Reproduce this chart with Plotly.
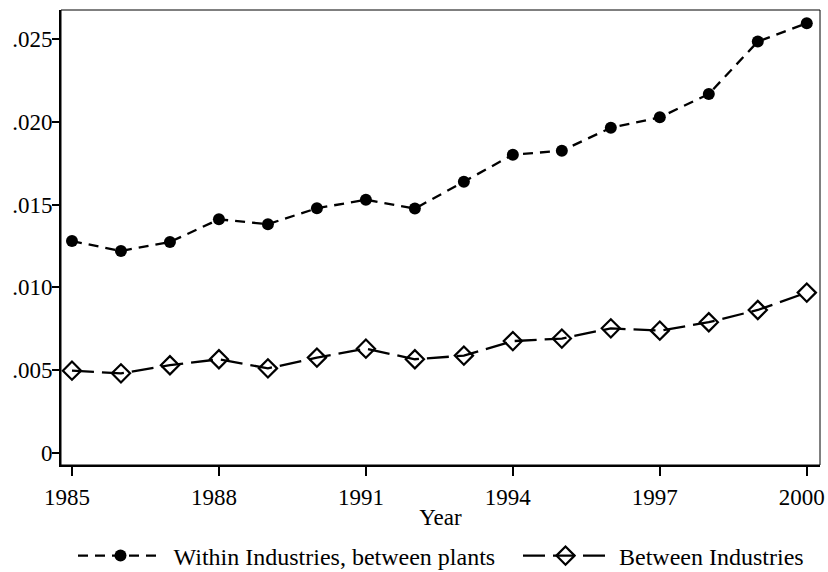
import plotly.graph_objects as go

years = list(range(1985, 2001))
within_industries = [0.0128, 0.0122, 0.01274, 0.01411, 0.01382, 0.01478, 0.0153, 0.01476,
                     0.01639, 0.01802, 0.01826, 0.01965, 0.02028, 0.02169, 0.02486, 0.02597]
between_industries = [0.00496, 0.0048, 0.00529, 0.00565, 0.0051, 0.00575, 0.00629, 0.00565,
                      0.00587, 0.00675, 0.0069, 0.00752, 0.00738, 0.00789, 0.00863, 0.00968]

x_ticks = [1985, 1988, 1991, 1994, 1997, 2000]
y_ticks = [0, 0.005, 0.010, 0.015, 0.020, 0.025]
y_tick_labels = ["0", ".005", ".010", ".015", ".020", ".025"]

FONT = "Liberation Serif, Times New Roman, serif"
LEGEND_FONT = dict(family=FONT, size=24, color="black")

fig = go.Figure()
fig.add_trace(go.Scatter(
    x=years, y=within_industries, mode="lines+markers",
    name=" Within Industries, between plants", legend="legend",
    line=dict(color="black", width=2.3, dash="10px,7px"),
    marker=dict(symbol="circle", size=12, color="black"),
))
fig.add_trace(go.Scatter(
    x=years, y=between_industries, mode="lines+markers",
    name=" Between Industries", legend="legend2",
    line=dict(color="black", width=2.3, dash="22px,8px"),
    marker=dict(symbol="diamond-open", size=14, color="black",
                line=dict(width=2.2, color="black")),
))

fig.update_layout(
    width=828, height=572,
    margin=dict(l=61, r=8, t=10, b=107),
    paper_bgcolor="white", plot_bgcolor="white",
    font=dict(family=FONT, size=23, color="black"),
    showlegend=True,
    legend=dict(orientation="h", xref="container", x=73 / 828, xanchor="left",
                yref="container", y=16 / 572, yanchor="middle", itemwidth=85,
                font=LEGEND_FONT),
    legend2=dict(orientation="h", xref="container", x=518 / 828, xanchor="left",
                 yref="container", y=16 / 572, yanchor="middle", itemwidth=85,
                 font=LEGEND_FONT),
    shapes=[dict(type="rect", xref="paper", yref="paper", x0=0, y0=0, x1=1, y1=1,
                 line=dict(color="black", width=1), layer="above")],
)
fig.update_xaxes(
    range=[1984.776, 2000.27], tickvals=x_ticks,
    showgrid=False, zeroline=False,
    showline=True, linecolor="black", linewidth=2, automargin=False,
    ticks="outside", ticklen=9, tickwidth=1.5, tickcolor="black",
    ticklabelstandoff=1, ticklabelshift=-5, ticklabeloverflow="allow",
    title=dict(text="Year", standoff=0, font=dict(family=FONT, size=23)),
)
fig.update_yaxes(
    range=[-0.000744, 0.02677], tickvals=y_ticks, ticktext=y_tick_labels,
    showgrid=False, zeroline=False, automargin=False,
    showline=True, linecolor="black", linewidth=2,
    ticks="outside", ticklen=7, tickwidth=1.5, tickcolor="black",
    ticklabelstandoff=-5,
)

fig.write_html("out.html")
